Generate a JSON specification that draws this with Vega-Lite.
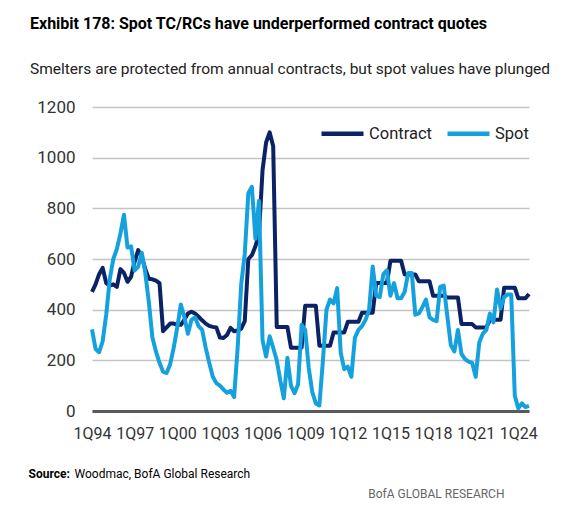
{
  "$schema": "https://vega.github.io/schema/vega-lite/v6.json",
  "width": 437,
  "height": 304,
  "autosize": {"type": "none"},
  "padding": {"left": 92, "top": 107, "right": 56, "bottom": 95},
  "background": "white",
  "config": {
    "font": "Roboto, sans-serif",
    "view": {"stroke": null}
  },
  "title": {
    "text": "Exhibit 178: Spot TC/RCs have underperformed contract quotes",
    "subtitle": "Smelters are protected from annual contracts, but spot values have plunged",
    "anchor": "start",
    "frame": "group",
    "dx": -62,
    "offset": 21,
    "fontSize": 16,
    "fontWeight": "bold",
    "color": "#000000",
    "subtitleFontSize": 15.5,
    "subtitleColor": "#222222",
    "subtitlePadding": 30
  },
  "data": {
    "values": [
      {"q": "1Q94", "Contract": 470, "Spot": 322},
      {"q": "2Q94", "Contract": 500, "Spot": 245},
      {"q": "3Q94", "Contract": 540, "Spot": 232},
      {"q": "4Q94", "Contract": 565, "Spot": 275},
      {"q": "1Q95", "Contract": 505, "Spot": 380},
      {"q": "2Q95", "Contract": 495, "Spot": 520},
      {"q": "3Q95", "Contract": 500, "Spot": 600},
      {"q": "4Q95", "Contract": 490, "Spot": 640},
      {"q": "1Q96", "Contract": 560, "Spot": 700},
      {"q": "2Q96", "Contract": 545, "Spot": 775},
      {"q": "3Q96", "Contract": 510, "Spot": 645},
      {"q": "4Q96", "Contract": 530, "Spot": 650},
      {"q": "1Q97", "Contract": 590, "Spot": 555},
      {"q": "2Q97", "Contract": 635, "Spot": 570},
      {"q": "3Q97", "Contract": 610, "Spot": 625},
      {"q": "4Q97", "Contract": 560, "Spot": 545},
      {"q": "1Q98", "Contract": 522, "Spot": 430},
      {"q": "2Q98", "Contract": 520, "Spot": 290},
      {"q": "3Q98", "Contract": 515, "Spot": 235},
      {"q": "4Q98", "Contract": 505, "Spot": 190},
      {"q": "1Q99", "Contract": 315, "Spot": 155},
      {"q": "2Q99", "Contract": 330, "Spot": 150},
      {"q": "3Q99", "Contract": 345, "Spot": 185},
      {"q": "4Q99", "Contract": 345, "Spot": 250},
      {"q": "1Q00", "Contract": 340, "Spot": 330},
      {"q": "2Q00", "Contract": 340, "Spot": 420},
      {"q": "3Q00", "Contract": 360, "Spot": 370},
      {"q": "4Q00", "Contract": 385, "Spot": 305},
      {"q": "1Q01", "Contract": 392, "Spot": 360},
      {"q": "2Q01", "Contract": 385, "Spot": 370},
      {"q": "3Q01", "Contract": 372, "Spot": 335},
      {"q": "4Q01", "Contract": 358, "Spot": 320},
      {"q": "1Q02", "Contract": 345, "Spot": 250},
      {"q": "2Q02", "Contract": 336, "Spot": 190},
      {"q": "3Q02", "Contract": 332, "Spot": 135},
      {"q": "4Q02", "Contract": 330, "Spot": 110},
      {"q": "1Q03", "Contract": 290, "Spot": 100},
      {"q": "2Q03", "Contract": 288, "Spot": 85},
      {"q": "3Q03", "Contract": 300, "Spot": 72},
      {"q": "4Q03", "Contract": 328, "Spot": 80},
      {"q": "1Q04", "Contract": 315, "Spot": 55},
      {"q": "2Q04", "Contract": 318, "Spot": 250},
      {"q": "3Q04", "Contract": 325, "Spot": 500},
      {"q": "4Q04", "Contract": 355, "Spot": 620},
      {"q": "1Q05", "Contract": 600, "Spot": 860},
      {"q": "2Q05", "Contract": 615, "Spot": 885},
      {"q": "3Q05", "Contract": 650, "Spot": 680},
      {"q": "4Q05", "Contract": 700, "Spot": 830},
      {"q": "1Q06", "Contract": 950, "Spot": 280},
      {"q": "2Q06", "Contract": 1060, "Spot": 215},
      {"q": "3Q06", "Contract": 1100, "Spot": 295},
      {"q": "4Q06", "Contract": 1045, "Spot": 250},
      {"q": "1Q07", "Contract": 332, "Spot": 200},
      {"q": "2Q07", "Contract": 332, "Spot": 120},
      {"q": "3Q07", "Contract": 332, "Spot": 50},
      {"q": "4Q07", "Contract": 332, "Spot": 210},
      {"q": "1Q08", "Contract": 250, "Spot": 100},
      {"q": "2Q08", "Contract": 250, "Spot": 70},
      {"q": "3Q08", "Contract": 250, "Spot": 105},
      {"q": "4Q08", "Contract": 250, "Spot": 340},
      {"q": "1Q09", "Contract": 415, "Spot": 320},
      {"q": "2Q09", "Contract": 415, "Spot": 170},
      {"q": "3Q09", "Contract": 415, "Spot": 75},
      {"q": "4Q09", "Contract": 415, "Spot": 30},
      {"q": "1Q10", "Contract": 258, "Spot": 22},
      {"q": "2Q10", "Contract": 258, "Spot": 200},
      {"q": "3Q10", "Contract": 258, "Spot": 400},
      {"q": "4Q10", "Contract": 258, "Spot": 440},
      {"q": "1Q11", "Contract": 310, "Spot": 425},
      {"q": "2Q11", "Contract": 310, "Spot": 485},
      {"q": "3Q11", "Contract": 310, "Spot": 230},
      {"q": "4Q11", "Contract": 310, "Spot": 165},
      {"q": "1Q12", "Contract": 352, "Spot": 175},
      {"q": "2Q12", "Contract": 352, "Spot": 135},
      {"q": "3Q12", "Contract": 352, "Spot": 290},
      {"q": "4Q12", "Contract": 352, "Spot": 320},
      {"q": "1Q13", "Contract": 388, "Spot": 335},
      {"q": "2Q13", "Contract": 388, "Spot": 360},
      {"q": "3Q13", "Contract": 388, "Spot": 400},
      {"q": "4Q13", "Contract": 388, "Spot": 570},
      {"q": "1Q14", "Contract": 505, "Spot": 455},
      {"q": "2Q14", "Contract": 505, "Spot": 450},
      {"q": "3Q14", "Contract": 505, "Spot": 540},
      {"q": "4Q14", "Contract": 505, "Spot": 555},
      {"q": "1Q15", "Contract": 593, "Spot": 455},
      {"q": "2Q15", "Contract": 593, "Spot": 505},
      {"q": "3Q15", "Contract": 593, "Spot": 445},
      {"q": "4Q15", "Contract": 593, "Spot": 445},
      {"q": "1Q16", "Contract": 539, "Spot": 470},
      {"q": "2Q16", "Contract": 539, "Spot": 545},
      {"q": "3Q16", "Contract": 539, "Spot": 545},
      {"q": "4Q16", "Contract": 539, "Spot": 380},
      {"q": "1Q17", "Contract": 512, "Spot": 385},
      {"q": "2Q17", "Contract": 512, "Spot": 410},
      {"q": "3Q17", "Contract": 512, "Spot": 440},
      {"q": "4Q17", "Contract": 512, "Spot": 370},
      {"q": "1Q18", "Contract": 455, "Spot": 360},
      {"q": "2Q18", "Contract": 455, "Spot": 355},
      {"q": "3Q18", "Contract": 455, "Spot": 490},
      {"q": "4Q18", "Contract": 455, "Spot": 495},
      {"q": "1Q19", "Contract": 448, "Spot": 375},
      {"q": "2Q19", "Contract": 448, "Spot": 260},
      {"q": "3Q19", "Contract": 448, "Spot": 235},
      {"q": "4Q19", "Contract": 448, "Spot": 320},
      {"q": "1Q20", "Contract": 343, "Spot": 225},
      {"q": "2Q20", "Contract": 343, "Spot": 205},
      {"q": "3Q20", "Contract": 343, "Spot": 195},
      {"q": "4Q20", "Contract": 343, "Spot": 190},
      {"q": "1Q21", "Contract": 330, "Spot": 135},
      {"q": "2Q21", "Contract": 330, "Spot": 270},
      {"q": "3Q21", "Contract": 330, "Spot": 305},
      {"q": "4Q21", "Contract": 330, "Spot": 320},
      {"q": "1Q22", "Contract": 360, "Spot": 385},
      {"q": "2Q22", "Contract": 360, "Spot": 350},
      {"q": "3Q22", "Contract": 360, "Spot": 480},
      {"q": "4Q22", "Contract": 360, "Spot": 405},
      {"q": "1Q23", "Contract": 487, "Spot": 450},
      {"q": "2Q23", "Contract": 487, "Spot": 460},
      {"q": "3Q23", "Contract": 487, "Spot": 460},
      {"q": "4Q23", "Contract": 487, "Spot": 60},
      {"q": "1Q24", "Contract": 445, "Spot": 10},
      {"q": "2Q24", "Contract": 445, "Spot": 30},
      {"q": "3Q24", "Contract": 445, "Spot": 15},
      {"q": "4Q24", "Contract": 462, "Spot": 20}
    ]
  },
  "transform": [
    {"fold": ["Contract", "Spot"], "as": ["series", "value"]}
  ],
  "encoding": {
    "y": {
      "field": "value",
      "type": "quantitative",
      "scale": {"domain": [0, 1200], "nice": false},
      "axis": {
        "values": [0, 200, 400, 600, 800, 1000, 1200],
        "format": "d",
        "labelFontSize": 17,
        "labelColor": "#333333",
        "labelPadding": 17,
        "ticks": false,
        "tickSize": 0,
        "domain": false,
        "grid": true,
        "gridColor": "#c4c4c4",
        "gridWidth": 1.5,
        "title": "BofA GLOBAL RESEARCH",
        "titleAngle": 0,
        "titleX": 412,
        "titleY": 390,
        "titleAlign": "right",
        "titleBaseline": "alphabetic",
        "titleFontSize": 12,
        "titleFontWeight": "normal",
        "titleColor": "#666666"
      }
    },
    "color": {
      "field": "series",
      "type": "nominal",
      "scale": {"domain": ["Contract", "Spot"], "range": ["#0b2265", "#14a1de"]},
      "legend": {
        "orient": "none",
        "legendX": 227,
        "legendY": 3,
        "direction": "horizontal",
        "title": null,
        "symbolType": "stroke",
        "symbolSize": 1764,
        "symbolStrokeWidth": 4.5,
        "labelFontSize": 16.5,
        "labelColor": "#222222",
        "labelOffset": 3,
        "columnPadding": 6
      }
    }
  },
  "layer": [
    {
      "transform": [{"filter": "datum.series === 'Contract'"}],
      "mark": {"type": "line", "strokeWidth": 4, "strokeJoin": "round"},
      "encoding": {
        "x": {
          "field": "q",
          "type": "ordinal",
          "sort": null,
          "scale": {"type": "point", "padding": 0},
          "axis": {
            "orient": "bottom",
            "values": ["1Q94", "1Q97", "1Q00", "1Q03", "1Q06", "1Q09", "1Q12", "1Q15", "1Q18", "1Q21", "1Q24"],
            "labelFontSize": 16,
            "labelColor": "#333333",
            "labelPadding": 14,
            "labelAngle": 0,
            "labelOverlap": false,
            "ticks": false,
            "tickSize": 0,
            "domainColor": "#595959",
            "domainWidth": 3,
            "grid": false,
            "title": "Source:",
            "titleFontSize": 12,
            "titleFontWeight": "bold",
            "titleColor": "#000000",
            "titleX": -64,
            "titleY": 66,
            "titleAlign": "left",
            "titleBaseline": "alphabetic"
          }
        }
      }
    },
    {
      "transform": [{"filter": "datum.series === 'Spot'"}],
      "mark": {"type": "line", "strokeWidth": 4, "strokeJoin": "round"},
      "encoding": {
        "x": {
          "field": "q",
          "type": "ordinal",
          "sort": null,
          "scale": {"type": "point", "padding": 0},
          "axis": {
            "orient": "bottom",
            "labels": false,
            "ticks": false,
            "domain": false,
            "grid": false,
            "title": "Woodmac, BofA Global Research",
            "titleFontSize": 12,
            "titleFontWeight": "normal",
            "titleColor": "#000000",
            "titleX": -18,
            "titleY": 66,
            "titleAlign": "left",
            "titleBaseline": "alphabetic"
          }
        }
      }
    }
  ],
  "resolve": {"axis": {"x": "independent"}}
}
